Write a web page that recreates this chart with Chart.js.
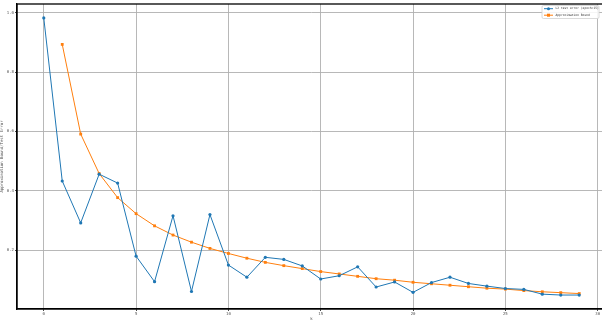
<!DOCTYPE html>
<html>
<head>
<meta charset="utf-8">
<script src="https://cdn.jsdelivr.net/npm/chart.js@4/dist/chart.umd.min.js"></script>
<style>
  html, body { margin: 0; padding: 0; background: #fff; overflow: hidden; }
  #wrap { width: 610px; height: 321px; }
</style>
</head>
<body>
<div id="wrap"><canvas id="c" width="610" height="321"></canvas></div>
<script>
// k values and the two series
const kValues = [0,1,2,3,4,5,6,7,8,9,10,11,12,13,14,15,16,17,18,19,20,21,22,23,24,25,26,27,28,29];
const testError = [0.982,0.433,0.292,0.456,0.426,0.180,0.094,0.316,0.061,0.320,
                   0.150,0.109,0.176,0.169,0.147,0.103,0.114,0.144,0.076,0.093,
                   0.058,0.091,0.109,0.088,0.079,0.071,0.068,0.052,0.049,0.049];
const boundK = [1,2,3,4,5,6,7,8,9,10,11,12,13,14,15,16,17,18,19,20,21,22,23,24,25,26,27,28,29];
const bound = [0.893,0.591,0.458,0.377,0.323,0.282,0.251,0.227,0.206,0.189,
               0.173,0.159,0.148,0.138,0.128,0.120,0.112,0.104,0.099,0.092,
               0.087,0.082,0.077,0.072,0.069,0.064,0.060,0.057,0.054];
const xTicks = [0,5,10,15,20,25,30];
const yTicks = [0.2,0.4,0.6,0.8,1.0];
const seriesNames = ['L2 test error (epoch=15)', 'Approximation Bound'];

const BLUE = '#1f77b4', ORANGE = '#ff7f0e';
const tickFont = { family: 'DejaVu Sans Mono', size: 4 };

// legend drawn inside the plot's upper-right corner
const innerLegend = {
  id: 'innerLegend',
  afterDraw(chart) {
    const { ctx, chartArea } = chart;
    const w = 57, h = 13;
    const x0 = chartArea.right - 64, y0 = chartArea.top + 1.5;
    ctx.save();
    ctx.fillStyle = 'rgba(255,255,255,0.85)';
    ctx.strokeStyle = '#d0d0d0';
    ctx.lineWidth = 0.8;
    ctx.beginPath();
    ctx.roundRect(x0, y0, w, h, 1.5);
    ctx.fill(); ctx.stroke();
    const rows = [
      { color: BLUE, name: seriesNames[0], shape: 'circle' },
      { color: ORANGE, name: seriesNames[1], shape: 'rect' }
    ];
    rows.forEach((r, i) => {
      const y = y0 + 3.2 + i * 6.5;
      ctx.strokeStyle = r.color;
      ctx.lineWidth = 1;
      ctx.beginPath(); ctx.moveTo(x0 + 2, y); ctx.lineTo(x0 + 11, y); ctx.stroke();
      ctx.fillStyle = r.color;
      if (r.shape === 'circle') {
        ctx.beginPath(); ctx.arc(x0 + 6.5, y, 1.5, 0, Math.PI * 2); ctx.fill();
      } else {
        ctx.fillRect(x0 + 5, y - 1.5, 3, 3);
      }
      ctx.fillStyle = '#333';
      ctx.font = '3px "DejaVu Sans Mono"';
      ctx.textBaseline = 'middle';
      ctx.fillText(r.name, x0 + 13.5, y);
    });
    ctx.restore();
  }
};

new Chart(document.getElementById('c'), {
  type: 'line',
  data: {
    datasets: [
      {
        label: seriesNames[0],
        data: kValues.map((k, i) => ({ x: k, y: testError[i] })),
        borderColor: BLUE, backgroundColor: BLUE,
        borderWidth: 1, pointRadius: 1.6, pointStyle: 'circle',
        pointBorderWidth: 0, tension: 0
      },
      {
        label: seriesNames[1],
        data: boundK.map((k, i) => ({ x: k, y: bound[i] })),
        borderColor: ORANGE, backgroundColor: ORANGE,
        borderWidth: 1, pointRadius: 2, pointStyle: 'rect',
        pointBorderWidth: 0, tension: 0
      }
    ]
  },
  options: {
    responsive: false,
    animation: false,
    layout: { padding: { top: 2, right: 3, left: 0, bottom: 0 } },
    plugins: { legend: { display: false }, tooltip: { enabled: false } },
    scales: {
      x: {
        type: 'linear', min: -1.45, max: 30.45,
        afterBuildTicks: s => { s.ticks = xTicks.map(v => ({ value: v })); },
        afterFit: s => { s.height = 12; },
        ticks: { font: tickFont, color: '#555', padding: 1, maxRotation: 0,
                 callback: v => String(v) },
        grid: { color: '#b0b0b0', lineWidth: 0.9, tickLength: 2, tickColor: '#333' },
        border: { color: '#000', width: 1.3 },
        title: { display: true, text: 'k', font: tickFont, color: '#555', padding: 0 }
      },
      y: {
        type: 'linear', min: 0.002, max: 1.029,
        afterBuildTicks: s => { s.ticks = yTicks.map(v => ({ value: v })); },
        afterFit: s => { s.width = 17; },
        ticks: { font: tickFont, color: '#555', padding: 1,
                 callback: v => Number(v).toFixed(1) },
        grid: { color: '#b0b0b0', lineWidth: 0.9, tickLength: 2, tickColor: '#333' },
        border: { color: '#000', width: 1.3 },
        title: { display: true, text: 'Approximation Bound/Test Error', font: tickFont,
                 color: '#555', padding: 0 }
      }
    }
  },
  plugins: [innerLegend, {
    id: 'frame',
    afterDraw(chart) {
      const { ctx, chartArea: a } = chart;
      ctx.save();
      ctx.strokeStyle = '#000'; ctx.lineWidth = 1.3;
      ctx.strokeRect(a.left, a.top, a.right - a.left, a.bottom - a.top);
      ctx.restore();
    }
  }]
});
</script>
</body>
</html>
